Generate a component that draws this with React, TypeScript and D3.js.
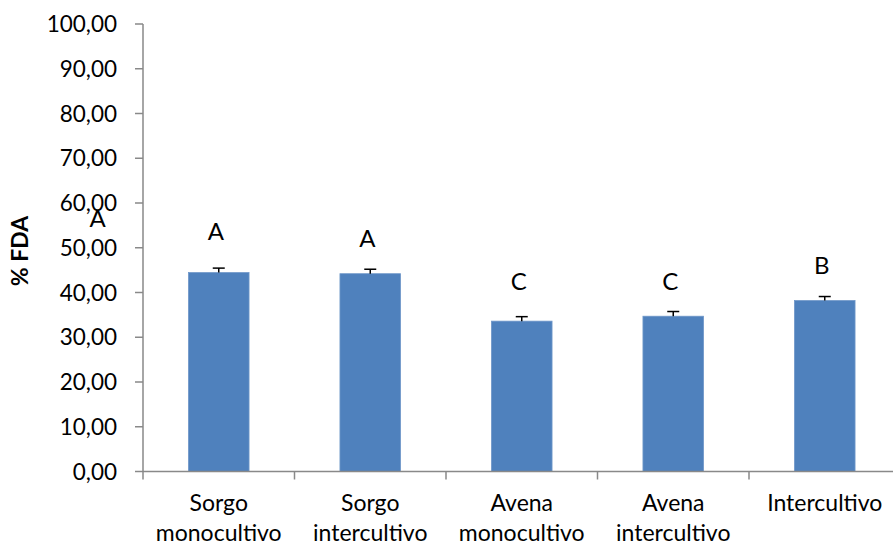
import React from "react";
import * as d3 from "d3";

const categories: string[][] = [
  ["Sorgo", "monocultivo"],
  ["Sorgo", "intercultivo"],
  ["Avena", "monocultivo"],
  ["Avena", "intercultivo"],
  ["Intercultivo"],
];
const values: number[] = [44.45, 44.2, 33.6, 34.7, 38.2];
const errors: number[] = [1.0, 1.0, 1.0, 1.05, 0.9];
const letters: string[] = ["A", "A", "C", "C", "B"];
const letterHeights: number[] = [51.7, 50.1, 40.5, 40.6, 44.1];
// stray annotation left of the axis (band-position units, value units)
const strayLetter = { text: "A", pos: -0.3, value: 54.6 };
const yTicks: number[] = [0, 10, 20, 30, 40, 50, 60, 70, 80, 90, 100];
const yTitle = "% FDA";

const W = 893;
const H = 549;
const left = 143;
const right = 900.5;
const top = 24;
const bottom = 471.5;
const FONT = "Lato, 'Open Sans', sans-serif";

export default function App() {
  const keys = categories.map((c) => c.join(" "));
  const x = d3.scaleBand<string>().domain(keys).range([left, right]).padding(0);
  const xPos = d3.scaleLinear().domain([0, categories.length]).range([left, right]);
  const y = d3.scaleLinear().domain([0, 100]).range([bottom, top]);
  const bw = x.bandwidth() * 0.4;
  const fmt = (v: number) => v.toFixed(2).replace(".", ",");
  const axisColor = "#898989";

  return (
    <svg
      width={W}
      height={H}
      style={{ position: "absolute", left: 0, top: 0, background: "#fff" }}
      fontFamily={FONT}
    >
      {/* bars */}
      {keys.map((k, i) => {
        const cx = (x(k) as number) + x.bandwidth() / 2;
        return (
          <g key={k}>
            <rect
              x={cx - bw / 2}
              y={y(values[i])}
              width={bw}
              height={bottom - y(values[i])}
              fill="#4F81BD"
              stroke="#6f97c9"
              strokeWidth={0.8}
            />
            <line x1={cx} x2={cx} y1={y(values[i])} y2={y(values[i] + errors[i])} stroke="#000" strokeWidth={1.5} />
            <line x1={cx - 6} x2={cx + 6} y1={y(values[i] + errors[i])} y2={y(values[i] + errors[i])} stroke="#000" strokeWidth={1.5} />
            <text x={cx - 3} y={y(letterHeights[i])} textAnchor="middle" fontSize={24} fill="#000">
              {letters[i]}
            </text>
          </g>
        );
      })}

      {/* y axis */}
      <line x1={left} x2={left} y1={top} y2={bottom} stroke={axisColor} strokeWidth={1.5} />
      {yTicks.map((t) => (
        <g key={t}>
          <line x1={left - 8} x2={left} y1={y(t)} y2={y(t)} stroke={axisColor} strokeWidth={1.5} />
          <text x={117} y={y(t)} dy="0.36em" textAnchor="end" fontSize={22.5} fill="#000">
            {fmt(t)}
          </text>
        </g>
      ))}

      {/* stray letter */}
      <text x={xPos(strayLetter.pos)} y={y(strayLetter.value)} textAnchor="middle" fontSize={24} fill="#000">
        {strayLetter.text}
      </text>

      {/* x axis */}
      <line x1={left} x2={right} y1={bottom} y2={bottom} stroke={axisColor} strokeWidth={1.5} />
      {d3.range(categories.length + 1).map((i) => (
        <line key={i} x1={xPos(i)} x2={xPos(i)} y1={bottom} y2={bottom + 8} stroke={axisColor} strokeWidth={1.5} />
      ))}
      {keys.map((k, i) => {
        const cx = (x(k) as number) + x.bandwidth() / 2;
        return (
          <text key={k} textAnchor="middle" fontSize={23} fill="#000">
            {categories[i].map((line, j) => (
              <tspan key={j} x={cx} y={511 + j * 29.5}>
                {line}
              </tspan>
            ))}
          </text>
        );
      })}

      {/* y title */}
      <text
        transform={`translate(28, ${251}) rotate(-90)`}
        textAnchor="middle"
        fontSize={23}
        fontWeight="bold"
        fill="#000"
      >
        {yTitle}
      </text>
    </svg>
  );
}
